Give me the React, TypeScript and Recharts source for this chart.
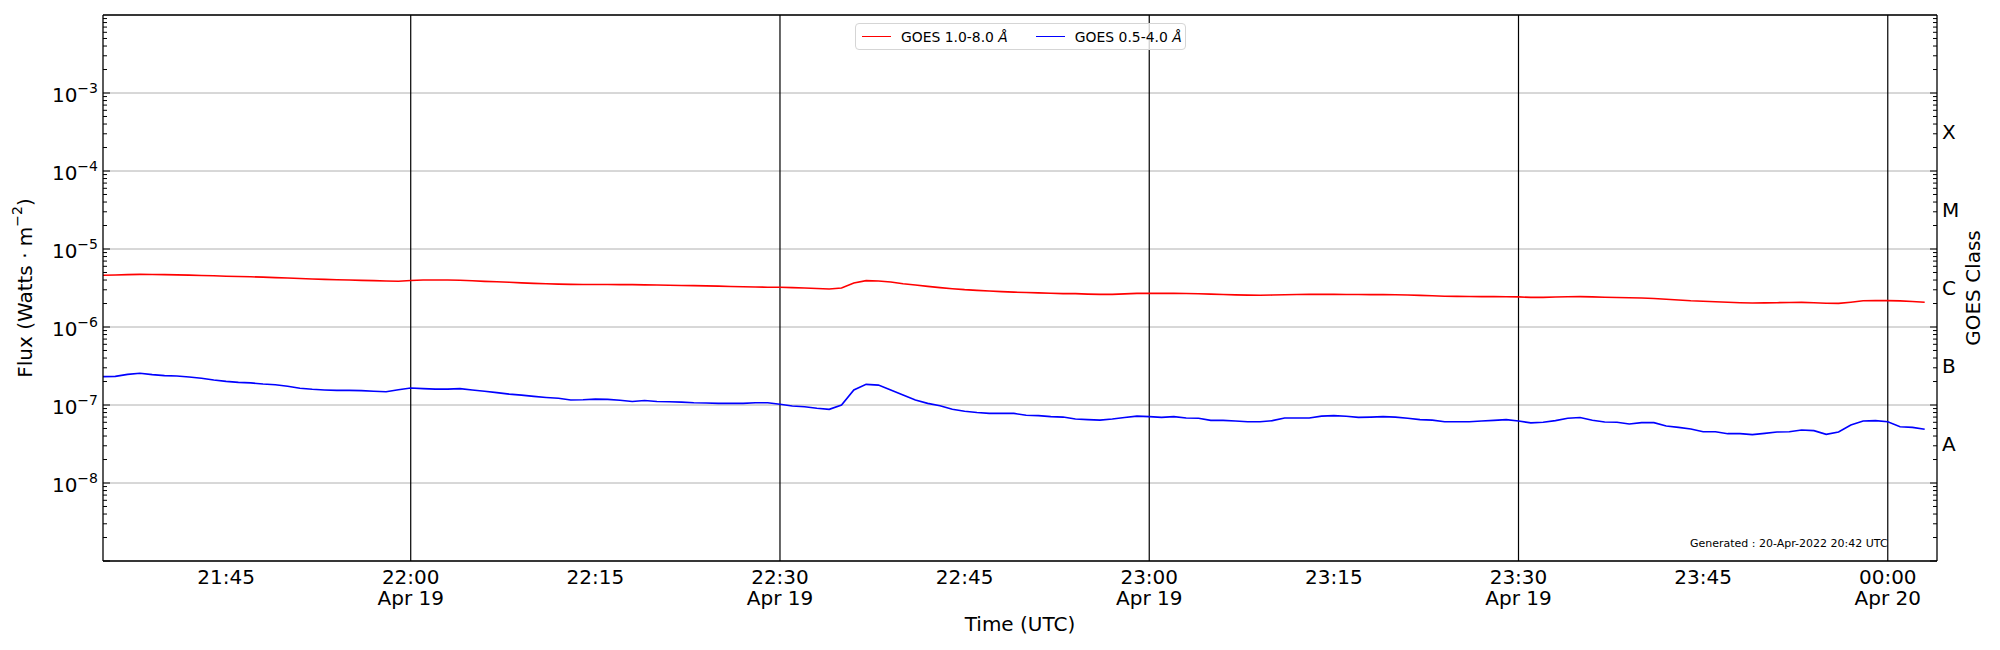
import React from "react";
import {
  CartesianGrid,
  Label,
  Legend,
  Line,
  LineChart,
  ReferenceLine,
  XAxis,
  YAxis,
} from "recharts";

const FONT = "'DejaVu Sans', sans-serif";

// first sample is 21:35 UTC on Apr 19, one sample per minute
const START_MINUTE = 21 * 60 + 35;

// GOES 1.0-8.0 Å, in units of 1e-6 W/m^2
const LONG_FLUX_E6 = [
  4.6, 4.64, 4.69, 4.73, 4.71, 4.69, 4.66, 4.62, 4.58, 4.53,
  4.48, 4.44, 4.4, 4.36, 4.3, 4.24, 4.18, 4.12, 4.08, 4.04,
  4.0, 3.96, 3.93, 3.88, 3.86, 3.95, 4.01, 4.01, 4.01, 3.98,
  3.92, 3.85, 3.8, 3.74, 3.68, 3.63, 3.59, 3.55, 3.52, 3.51,
  3.5, 3.5, 3.49, 3.49, 3.47, 3.45, 3.43, 3.41, 3.39, 3.37,
  3.34, 3.31, 3.28, 3.26, 3.24, 3.23, 3.2, 3.16, 3.12, 3.07,
  3.16, 3.66, 3.93, 3.89, 3.78, 3.59, 3.45, 3.32, 3.2, 3.1,
  3.01, 2.95, 2.89, 2.84, 2.8, 2.77, 2.74, 2.71, 2.68, 2.68,
  2.64, 2.62, 2.62, 2.66, 2.7, 2.7, 2.7, 2.7, 2.69, 2.67,
  2.64, 2.61, 2.58, 2.56, 2.55, 2.57, 2.59, 2.61, 2.62, 2.62,
  2.62, 2.61, 2.61, 2.6, 2.6, 2.59, 2.57, 2.54, 2.51, 2.48,
  2.47, 2.46, 2.45, 2.45, 2.44, 2.43, 2.4, 2.4, 2.42, 2.44,
  2.45, 2.43, 2.41, 2.39, 2.37, 2.35, 2.32, 2.27, 2.22, 2.17,
  2.14, 2.11, 2.08, 2.05, 2.03, 2.04, 2.05, 2.06, 2.07, 2.05,
  2.02, 2.01, 2.08, 2.17, 2.18, 2.18, 2.16, 2.12, 2.08,
];

// GOES 0.5-4.0 Å, in units of 1e-7 W/m^2
const SHORT_FLUX_E7 = [
  2.31, 2.33, 2.47, 2.55, 2.45, 2.38, 2.35, 2.29, 2.2, 2.09,
  2.01, 1.95, 1.92, 1.86, 1.82, 1.74, 1.64, 1.59, 1.56, 1.54,
  1.54, 1.53, 1.5, 1.48, 1.57, 1.65, 1.62, 1.6, 1.6, 1.62,
  1.56, 1.5, 1.44, 1.38, 1.34, 1.29, 1.25, 1.22, 1.16, 1.17,
  1.19, 1.18, 1.15, 1.11, 1.14, 1.11, 1.1, 1.09, 1.07, 1.06,
  1.05, 1.05, 1.05, 1.07, 1.07, 1.02, 0.97, 0.95, 0.91, 0.88,
  1.0, 1.56, 1.84, 1.8, 1.56, 1.34, 1.16, 1.05, 0.98, 0.88,
  0.83, 0.8, 0.78, 0.78, 0.78, 0.74, 0.73, 0.71, 0.7, 0.66,
  0.65, 0.64, 0.66, 0.69, 0.72, 0.71, 0.695, 0.71, 0.68, 0.675,
  0.636, 0.636, 0.624, 0.61, 0.61, 0.63, 0.68, 0.68, 0.68, 0.72,
  0.73, 0.716, 0.695, 0.7, 0.71, 0.7, 0.675, 0.65, 0.64, 0.61,
  0.61, 0.61, 0.624, 0.636, 0.65, 0.624, 0.59, 0.6, 0.63, 0.675,
  0.69, 0.636, 0.605, 0.6, 0.57, 0.594, 0.594, 0.538, 0.517, 0.492,
  0.455, 0.455, 0.429, 0.429, 0.417, 0.433, 0.45, 0.455, 0.478, 0.469,
  0.42, 0.45, 0.554, 0.624, 0.63, 0.61, 0.527, 0.517, 0.488,
];

const TIME_DOMAIN = [1295, 1444];
const TIME_TICKS = [1305, 1320, 1335, 1350, 1365, 1380, 1395, 1410, 1425, 1440];
const HOUR_LINES = [1320, 1350, 1380, 1410, 1440];

const FLUX_DOMAIN = [1e-9, 1e-2];
const FLUX_TICKS = [1e-8, 1e-7, 1e-6, 1e-5, 1e-4, 1e-3];
const DECADES = [1e-9, 1e-8, 1e-7, 1e-6, 1e-5, 1e-4, 1e-3];
// every 1..9 x 10^n inside the axis range, for the inward tick marks
const LOG_TICKS = DECADES.flatMap((d) => [1, 2, 3, 4, 5, 6, 7, 8, 9].map((k) => k * d));

const CLASS_TICKS = [10 ** -7.5, 10 ** -6.5, 10 ** -5.5, 10 ** -4.5, 10 ** -3.5];
const CLASS_LABELS = ["A", "B", "C", "M", "X"];

const data = LONG_FLUX_E6.map((v, i) => ({
  t: START_MINUTE + i,
  long: v * 1e-6,
  short: SHORT_FLUX_E7[i] * 1e-7,
}));

const pad = (n: number) => String(n).padStart(2, "0");
const isDecade = (v: number) => Math.abs(Math.log10(v) - Math.round(Math.log10(v))) < 1e-6;

function TimeTick({ x, y, payload }: any) {
  const v = payload.value as number;
  const label = `${pad(Math.floor(v / 60) % 24)}:${pad(v % 60)}`;
  const date = v % 30 === 0 ? (v >= 1440 ? "Apr 20" : "Apr 19") : null;
  return (
    <g fontFamily={FONT} fontSize={20} fill="#000">
      <text x={x} y={y + 23} textAnchor="middle">
        {label}
      </text>
      {date && (
        <text x={x} y={y + 44} textAnchor="middle">
          {date}
        </text>
      )}
    </g>
  );
}

function FluxTick({ x, y, payload }: any) {
  const exp = Math.round(Math.log10(payload.value));
  return (
    <text x={x} y={y + 9} textAnchor="end" fontFamily={FONT} fontSize={20} fill="#000">
      <tspan>10</tspan>
      <tspan dy={-9} fontSize={14}>
        {"\u2212" + Math.abs(exp)}
      </tspan>
    </text>
  );
}

function ClassTick({ x, y, payload }: any) {
  const idx = CLASS_TICKS.findIndex((c) => Math.abs(c - payload.value) / c < 1e-6);
  return (
    <text x={x} y={y + 7} textAnchor="start" fontFamily={FONT} fontSize={20} fill="#000">
      {CLASS_LABELS[idx]}
    </text>
  );
}

// inward tick marks: major 7px at decades, minor 4px elsewhere
function InnerTickLeft({ x, y, payload }: any) {
  const len = isDecade(payload.value) ? 7 : 4;
  return <line x1={x} x2={x + len} y1={y} y2={y} stroke="#000" strokeWidth={1} />;
}

function InnerTickRight({ x, y, payload }: any) {
  const len = isDecade(payload.value) ? 7 : 4;
  return <line x1={x} x2={x - len} y1={y} y2={y} stroke="#000" strokeWidth={1} />;
}

function InnerTickBottom({ x, y }: any) {
  return <line x1={x} x2={x} y1={y} y2={y - 7} stroke="#000" strokeWidth={1} />;
}

function FluxLabel({ viewBox }: any) {
  const cx = viewBox.x + 25;
  const cy = viewBox.y + viewBox.height / 2;
  return (
    <text
      x={cx}
      y={cy}
      transform={`rotate(-90, ${cx}, ${cy})`}
      textAnchor="middle"
      dominantBaseline="central"
      fontFamily={FONT}
      fontSize={20}
      fill="#000"
    >
      <tspan>Flux (Watts · m</tspan>
      <tspan dy={-8} fontSize={14}>
        {"\u22122"}
      </tspan>
      <tspan dy={8}>)</tspan>
    </text>
  );
}

function ClassLabel({ viewBox }: any) {
  const cx = viewBox.x + 36;
  const cy = viewBox.y + viewBox.height / 2;
  return (
    <text
      x={cx}
      y={cy}
      transform={`rotate(-90, ${cx}, ${cy})`}
      textAnchor="middle"
      dominantBaseline="central"
      fontFamily={FONT}
      fontSize={20}
      fill="#000"
    >
      GOES Class
    </text>
  );
}

function TimeLabel({ viewBox }: any) {
  return (
    <text
      x={viewBox.x + viewBox.width / 2}
      y={viewBox.y + 70}
      textAnchor="middle"
      fontFamily={FONT}
      fontSize={20}
      fill="#000"
    >
      Time (UTC)
    </text>
  );
}

const LEGEND_ITEMS = [
  { name: "GOES 1.0-8.0", color: "#ff0000" },
  { name: "GOES 0.5-4.0", color: "#0000ff" },
];

function GoesLegend() {
  return (
    <div
      style={{
        display: "flex",
        alignItems: "center",
        boxSizing: "border-box",
        width: 331,
        height: 27,
        padding: "0 0 0 6px",
        border: "1px solid #d5d5d5",
        borderRadius: 4,
        background: "rgba(255,255,255,0.8)",
        fontFamily: FONT,
        fontSize: 13.9,
        color: "#000",
        whiteSpace: "nowrap",
        overflow: "hidden",
      }}
    >
      {LEGEND_ITEMS.map((item, i) => (
        <div
          key={item.name}
          style={{ display: "flex", alignItems: "center", marginLeft: i === 0 ? 0 : 28 }}
        >
          <div style={{ width: 29, height: 1.6, background: item.color, marginRight: 10 }} />
          <span>
            {item.name} <i>Å</i>
          </span>
        </div>
      ))}
    </div>
  );
}

export default function App() {
  return (
    <div style={{ position: "absolute", left: 0, top: 0, width: 2000, height: 650, background: "#fff" }}>
      <LineChart
        width={2000}
        height={650}
        data={data}
        margin={{ top: 15, right: 13, bottom: 0, left: 0 }}
      >
        <CartesianGrid horizontal vertical={false} stroke="#b0b0b0" strokeWidth={1} />
        <XAxis
          dataKey="t"
          type="number"
          domain={TIME_DOMAIN}
          allowDataOverflow
          ticks={TIME_TICKS}
          interval={0}
          height={89}
          tickSize={0}
          tickMargin={0}
          tickLine={false}
          axisLine={{ stroke: "#000", strokeWidth: 1.3 }}
          tick={<TimeTick />}
        >
          <Label content={<TimeLabel />} />
        </XAxis>
        <XAxis
          xAxisId="inner"
          type="number"
          domain={TIME_DOMAIN}
          allowDataOverflow
          ticks={TIME_TICKS}
          interval={0}
          mirror
          height={1}
          tickSize={0}
          tickMargin={0}
          tickLine={false}
          axisLine={false}
          tick={<InnerTickBottom />}
        />
        <XAxis
          xAxisId="top"
          orientation="top"
          type="number"
          domain={TIME_DOMAIN}
          allowDataOverflow
          mirror
          height={1}
          tick={false}
          tickLine={false}
          axisLine={{ stroke: "#000", strokeWidth: 1.3 }}
        />
        <YAxis
          scale="log"
          type="number"
          domain={FLUX_DOMAIN}
          allowDataOverflow
          ticks={FLUX_TICKS}
          interval={0}
          width={103}
          tickSize={0}
          tickMargin={5}
          tickLine={false}
          axisLine={{ stroke: "#000", strokeWidth: 1.3 }}
          tick={<FluxTick />}
        >
          <Label content={<FluxLabel />} />
        </YAxis>
        <YAxis
          yAxisId="innerL"
          orientation="left"
          scale="log"
          type="number"
          domain={FLUX_DOMAIN}
          allowDataOverflow
          ticks={LOG_TICKS}
          interval={0}
          mirror
          width={1}
          tickSize={0}
          tickMargin={0}
          tickLine={false}
          axisLine={false}
          tick={<InnerTickLeft />}
        />
        <YAxis
          yAxisId="innerR"
          orientation="right"
          scale="log"
          type="number"
          domain={FLUX_DOMAIN}
          allowDataOverflow
          ticks={LOG_TICKS}
          interval={0}
          mirror
          width={1}
          tickSize={0}
          tickMargin={0}
          tickLine={false}
          axisLine={false}
          tick={<InnerTickRight />}
        />
        <YAxis
          yAxisId="class"
          orientation="right"
          scale="log"
          type="number"
          domain={FLUX_DOMAIN}
          allowDataOverflow
          ticks={CLASS_TICKS}
          interval={0}
          width={50}
          tickSize={0}
          tickMargin={5}
          tickLine={false}
          axisLine={{ stroke: "#000", strokeWidth: 1.3 }}
          tick={<ClassTick />}
        >
          <Label content={<ClassLabel />} />
        </YAxis>
        {HOUR_LINES.map((v) => (
          <ReferenceLine key={v} x={v} stroke="#000" strokeWidth={1.2} />
        ))}
        <Legend
          verticalAlign="middle"
          align="center"
          layout="horizontal"
          wrapperStyle={{ top: 23, left: 855, width: 331 }}
          content={<GoesLegend />}
        />
        <Line
          dataKey="long"
          name="GOES 1.0-8.0 Å"
          type="linear"
          stroke="#ff0000"
          strokeWidth={1.6}
          dot={false}
          isAnimationActive={false}
        />
        <Line
          dataKey="short"
          name="GOES 0.5-4.0 Å"
          type="linear"
          stroke="#0000ff"
          strokeWidth={1.6}
          dot={false}
          isAnimationActive={false}
        />
      </LineChart>
      <div
        style={{
          position: "absolute",
          left: 1690,
          top: 537,
          fontFamily: FONT,
          fontSize: 11,
          color: "#000",
          whiteSpace: "nowrap",
        }}
      >
        Generated : 20-Apr-2022 20:42 UTC
      </div>
    </div>
  );
}
